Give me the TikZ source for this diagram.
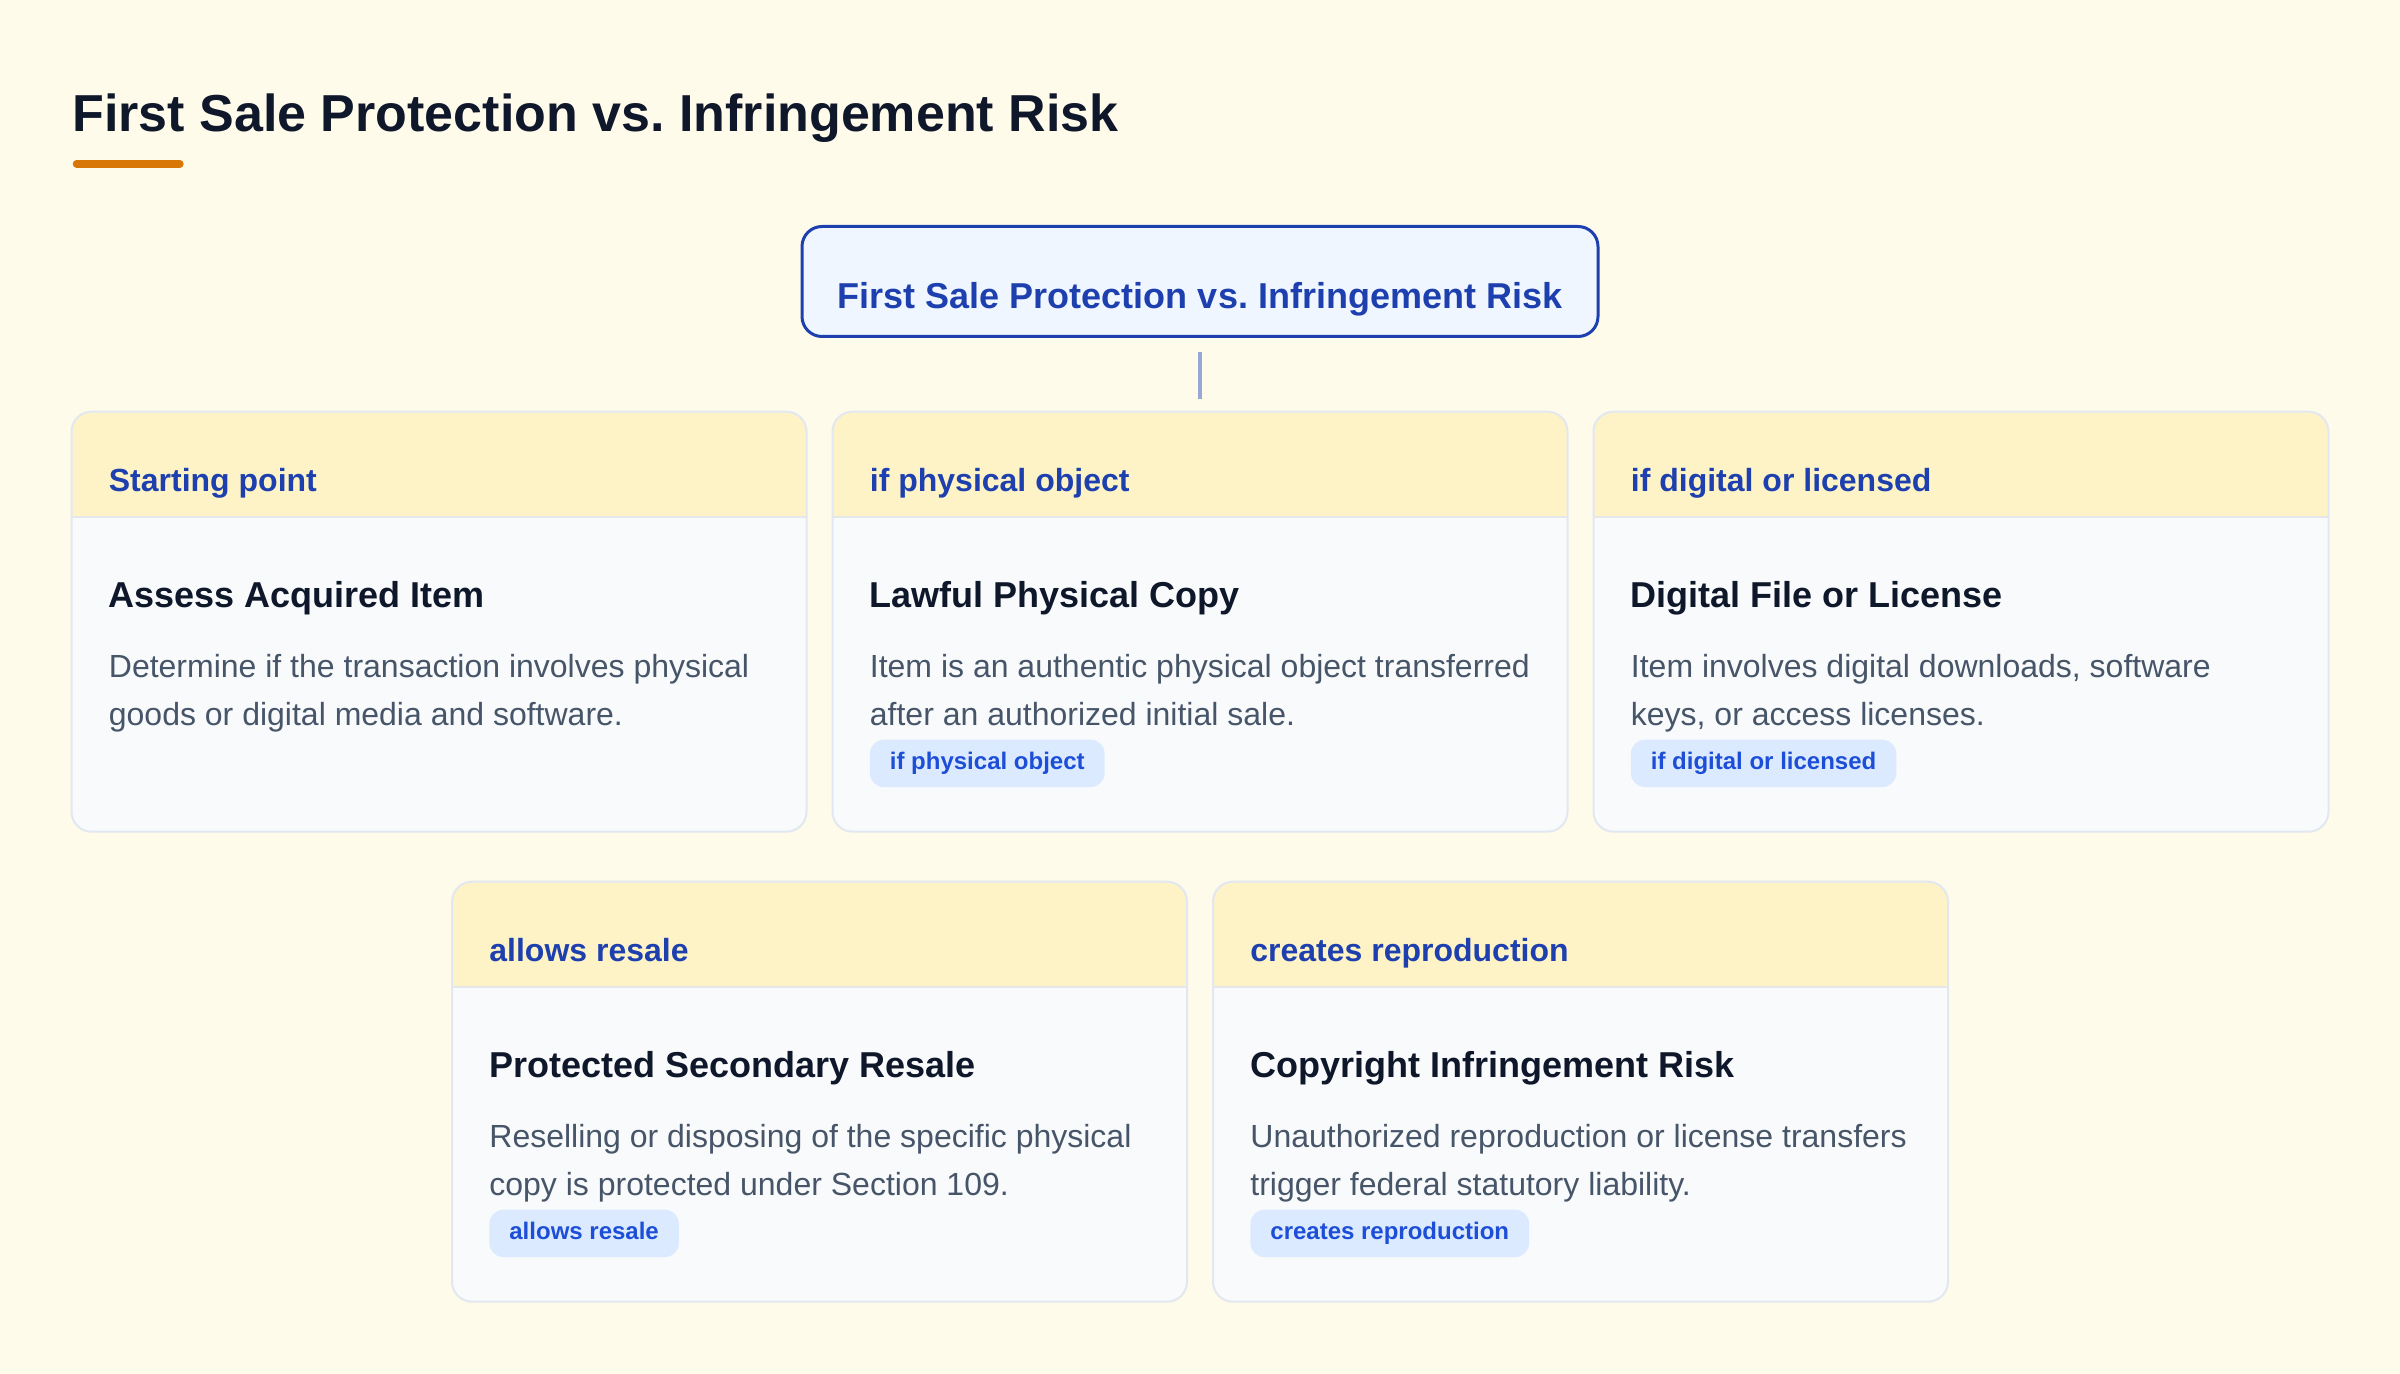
\documentclass[tikz,border=0pt]{standalone}
\usepackage{fontspec}
\setmainfont{Liberation Sans}
\usetikzlibrary{positioning}
\definecolor{pagebg}{HTML}{FFFBEB}
\definecolor{hdrfill}{HTML}{FEF3C7}
\definecolor{cardbody}{HTML}{F8FAFC}
\definecolor{cardline}{HTML}{E2E8F0}
\definecolor{hdrrule}{HTML}{E5E7EB}
\definecolor{rootfill}{HTML}{EFF6FF}
\definecolor{rootblue}{HTML}{1E40AF}
\definecolor{inkdark}{HTML}{0F172A}
\definecolor{inkgrey}{HTML}{475569}
\definecolor{pillfill}{HTML}{DBEAFE}
\definecolor{pilltext}{HTML}{1D4ED8}
\definecolor{stemcol}{HTML}{96A8D8}
\definecolor{accent}{HTML}{D97706}
\frenchspacing
\tikzset{
  pagetitle/.style={
    anchor=base west, inner sep=0pt,
    font=\fontsize{26}{31}\selectfont\bfseries,
    text=inkdark},
  accentbar/.style={draw=accent, line width=3.85pt, line cap=round},
  rootbox/.style={
    rectangle,
    rounded corners=10pt,
    draw=rootblue, line width=1.5pt,
    fill=rootfill,
    minimum width=398pt,
    inner xsep=0pt, inner ysep=0pt, outer sep=0pt,
    text height=41.25pt, text depth=13.75pt,
    font=\fontsize{18}{22}\selectfont\bfseries,
    text=rootblue},
  stem/.style={draw=stemcol, line width=1.6pt},
  card/.style={
    rectangle,
    rounded corners=10pt,
    draw=cardline, line width=1pt,
    fill=cardbody,
    minimum width=367.5pt,
    minimum height=210pt,
    inner sep=0pt, outer sep=0pt,
    path picture={
      \fill[hdrfill, sharp corners]
        (path picture bounding box.north west) rectangle
        ([yshift=-52.8pt]path picture bounding box.north east);
      \draw[hdrrule, sharp corners, line width=1pt]
        ([yshift=-52.8pt]path picture bounding box.north west) --
        ([yshift=-52.8pt]path picture bounding box.north east);
    }},
  headlabel/.style={
    anchor=base west, inner sep=0pt,
    font=\fontsize{16}{19}\selectfont\bfseries,
    text=rootblue},
  cardtitle/.style={
    anchor=base west, inner sep=0pt,
    font=\fontsize{18}{22}\selectfont\bfseries,
    text=inkdark},
  cardtext/.style={
    anchor=base west, inner sep=0pt, align=left,
    font=\fontsize{16}{24}\selectfont,
    text=inkgrey},
  pill/.style={
    rectangle,
    rounded corners=7pt,
    fill=pillfill,
    anchor=north west,
    inner xsep=10pt, inner ysep=6.05pt,
    text height=9pt, text depth=2.6pt,
    font=\fontsize{12}{14}\selectfont\bfseries,
    text=pilltext},
}
\begin{document}
\begin{tikzpicture}[x=1pt, y=1pt]
    \fill[pagebg] (0,0) rectangle (1200,-687);
    \useasboundingbox (0,0) rectangle (1200,-687);

    \node[pagetitle] (title) at (36,-65.85) {First Sale Protection vs.\ Infringement Risk};
    \draw[accentbar] ([xshift=2.3pt,yshift=-16.05pt]title.base west) -- +(51.6pt,0);

    \node[rootbox] (root) at (600,-140.75) {First Sale Protection vs.\ Infringement Risk};

    % first row
    \node[card, anchor=north west] (start) at (35.75,-205.85) {};
    \node[card, right=13pt of start] (phys) {};
    \node[card, right=13pt of phys] (digi) {};
    % second row
    \node[card, anchor=north east] (resale) at ([xshift=-6.5pt,yshift=-25pt]phys.south) {};
    \node[card, right=13pt of resale] (infr) {};

    \draw[stem, shorten <=7.6pt, shorten >=6.35pt] (root) -- (phys);

    \node[headlabel] (starth) at ([xshift=18.5pt,yshift=-40pt]start.north west) {Starting point};
    \node[cardtitle] (startt) at ([xshift=18.5pt,yshift=-97.8pt]start.north west) {Assess Acquired Item};
    \node[cardtext] (startd) at ([xshift=18.5pt,yshift=-156.8pt]start.north west)
        {Determine if the transaction involves physical\\goods or digital media and software.};

    \node[headlabel] (physh) at ([xshift=18.5pt,yshift=-40pt]phys.north west) {if physical object};
    \node[cardtitle] (physt) at ([xshift=18.5pt,yshift=-97.8pt]phys.north west) {Lawful Physical Copy};
    \node[cardtext] (physd) at ([xshift=18.5pt,yshift=-156.8pt]phys.north west)
        {Item is an authentic physical object transferred\\after an authorized initial sale.};
    \node[pill] (physp) at ([xshift=18.5pt,yshift=-163.8pt]phys.north west) {if physical object};

    \node[headlabel] (digih) at ([xshift=18.5pt,yshift=-40pt]digi.north west) {if digital or licensed};
    \node[cardtitle] (digit) at ([xshift=18.5pt,yshift=-97.8pt]digi.north west) {Digital File or License};
    \node[cardtext] (digid) at ([xshift=18.5pt,yshift=-156.8pt]digi.north west)
        {Item involves digital downloads, software\\keys, or access licenses.};
    \node[pill] (digip) at ([xshift=18.5pt,yshift=-163.8pt]digi.north west) {if digital or licensed};

    \node[headlabel] (resaleh) at ([xshift=18.5pt,yshift=-40pt]resale.north west) {allows resale};
    \node[cardtitle] (resalet) at ([xshift=18.5pt,yshift=-97.8pt]resale.north west) {Protected Secondary Resale};
    \node[cardtext] (resaled) at ([xshift=18.5pt,yshift=-156.8pt]resale.north west)
        {Reselling or disposing of the specific physical\\copy is protected under Section 109.};
    \node[pill] (resalep) at ([xshift=18.5pt,yshift=-163.8pt]resale.north west) {allows resale};

    \node[headlabel] (infrh) at ([xshift=18.5pt,yshift=-40pt]infr.north west) {creates reproduction};
    \node[cardtitle] (infrt) at ([xshift=18.5pt,yshift=-97.8pt]infr.north west) {Copyright Infringement Risk};
    \node[cardtext] (infrd) at ([xshift=18.5pt,yshift=-156.8pt]infr.north west)
        {Unauthorized reproduction or license transfers\\trigger federal statutory liability.};
    \node[pill] (infrp) at ([xshift=18.5pt,yshift=-163.8pt]infr.north west) {creates reproduction};

\end{tikzpicture}
\end{document}
